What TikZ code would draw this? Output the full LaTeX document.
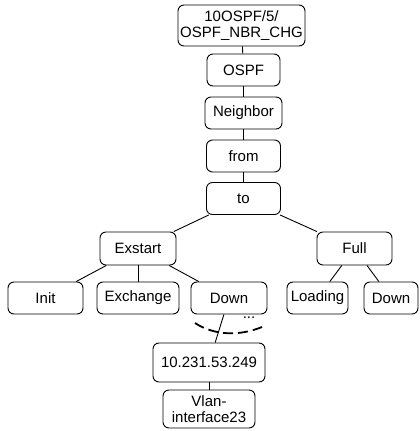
\documentclass[tikz,border=0pt]{standalone}
\usepackage{fontspec}
\setmainfont{Liberation Sans}
\begin{document}
\begin{tikzpicture}[x=1pt,y=-1pt,
  box/.style={draw, line width=0.9pt, rounded corners=6pt, inner sep=0pt,
    font=\fontsize{15}{16.5}\selectfont, align=center},
  link/.style={line width=0.9pt}]
\useasboundingbox (0,0) rectangle (420,431);
% top chain
\node[box, minimum width=127pt, minimum height=41pt] (code) at (241.5,25.5) {10OSPF/5/\\OSPF\_NBR\_CHG};
\node[box, minimum width=73pt, minimum height=32pt] (ospf) at (243.5,70) {OSPF};
\node[box, minimum width=77pt, minimum height=32pt] (nbr) at (243.5,113) {Neighbor};
\node[box, minimum width=74pt, minimum height=32pt] (from) at (243.5,156) {from};
\node[box, minimum width=74pt, minimum height=32pt] (to) at (243.5,198.5) {to};
% states
\node[box, minimum width=76pt, minimum height=33pt] (exstart) at (138,248.5) {Exstart};
\node[box, minimum width=75pt, minimum height=33pt] (full) at (354.5,248.5) {Full};
\node[box, minimum width=75pt, minimum height=32pt] (init) at (45.5,298) {Init};
\node[box, minimum width=82pt, minimum height=32pt] (exch) at (138,298) {Exchange};
\node[box, minimum width=76pt, minimum height=32pt] (down) at (229,298) {Down};
\node[box, minimum width=61pt, minimum height=32pt] (load) at (317.5,298) {Loading};
\node[box, minimum width=54pt, minimum height=32pt] (down2) at (391,298) {Down};
% address and interface
\node[box, minimum width=112pt, minimum height=39pt] (addr) at (209,362.5) {10.231.53.249};
\node[box, minimum width=92pt, minimum height=38pt] (vlan) at (209,409) {Vlan-\\interface23};
% connectors
\draw[link] (code) -- (ospf);
\draw[link] (ospf) -- (nbr);
\draw[link] (nbr) -- (from);
\draw[link] (from) -- (to);
\draw[link] (to) -- (exstart);
\draw[link] (to) -- (full);
\draw[link] (exstart) -- (init);
\draw[link] (exstart) -- (exch);
\draw[link] (exstart) -- (down);
\draw[link] (full) -- (load);
\draw[link] (full) -- (down2);
\draw[link] (down) -- (addr);
\draw[link] (addr) -- (vlan);
% dashed arc with ellipsis
\coordinate (arcL) at (195,323);
\coordinate (arcR) at (262,327);
\draw[line width=1.8pt, dash pattern=on 10pt off 5pt] (arcL) .. controls (215,336) and (240,336) .. (arcR);
\node[font=\fontsize{15}{16.5}\selectfont, inner sep=0pt] (dots) at (249,318) {...};
\end{tikzpicture}
\end{document}
